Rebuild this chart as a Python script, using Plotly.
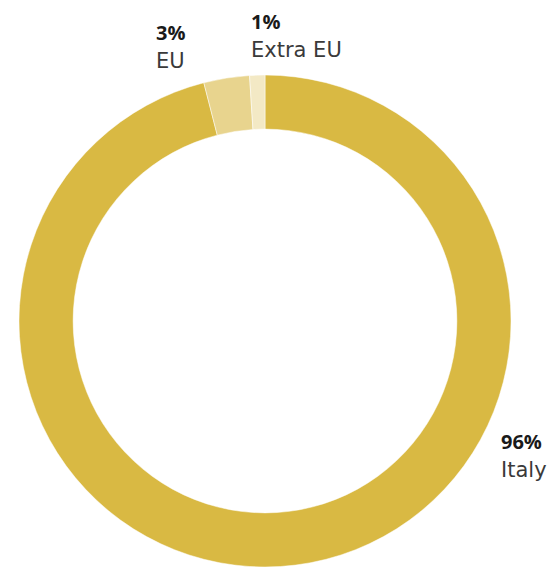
import plotly.graph_objects as go

W, H = 548, 567

labels = ["Italy", "EU", "Extra EU"]
values = [96, 3, 1]
pct_text = ["96%", "3%", "1%"]
colors = ["#D9B943", "#E8D48E", "#F3E9C5"]

# pie geometry (pixels): center and outer radius
cx, cy, R = 265, 321, 246

fig = go.Figure(go.Pie(
    labels=labels,
    values=values,
    hole=0.78,
    sort=False,
    direction="clockwise",
    rotation=0,
    marker=dict(colors=colors, line=dict(color="#ffffff", width=0.5)),
    textinfo="none",
    hoverinfo="label+percent",
    domain=dict(x=[(cx - R) / W, (cx + R) / W],
                y=[(H - cy - R) / H, (H - cy + R) / H]),
    showlegend=False,
))

# label positions: left x, cap-top y for value line and name line (pixels)
label_pos = {
    "EU": (157, 23, 53),
    "Extra EU": (252, 12, 42),
    "Italy": (502, 432, 462),
}

annotations = []
for name, pct in zip(labels, pct_text):
    x, y1, y2 = label_pos[name]
    annotations.append(dict(
        x=x / W, y=1 - (y1 - 5) / H, xref="paper", yref="paper",
        xanchor="left", yanchor="top", showarrow=False,
        text="<b>" + pct + "</b>",
        font=dict(family="Open Sans", size=20, color="#1a1a1a"),
        borderpad=0, xshift=-2,
    ))
    annotations.append(dict(
        x=x / W, y=1 - (y2 - 5) / H, xref="paper", yref="paper",
        xanchor="left", yanchor="top", showarrow=False,
        text=name,
        font=dict(family="DejaVu Sans", size=21, color="#3a3a3a"),
        borderpad=0, xshift=-2,
    ))

fig.update_layout(
    width=W, height=H,
    margin=dict(l=0, r=0, t=0, b=0),
    paper_bgcolor="#ffffff",
    plot_bgcolor="#ffffff",
    annotations=annotations,
)

fig.write_html("out.html")
